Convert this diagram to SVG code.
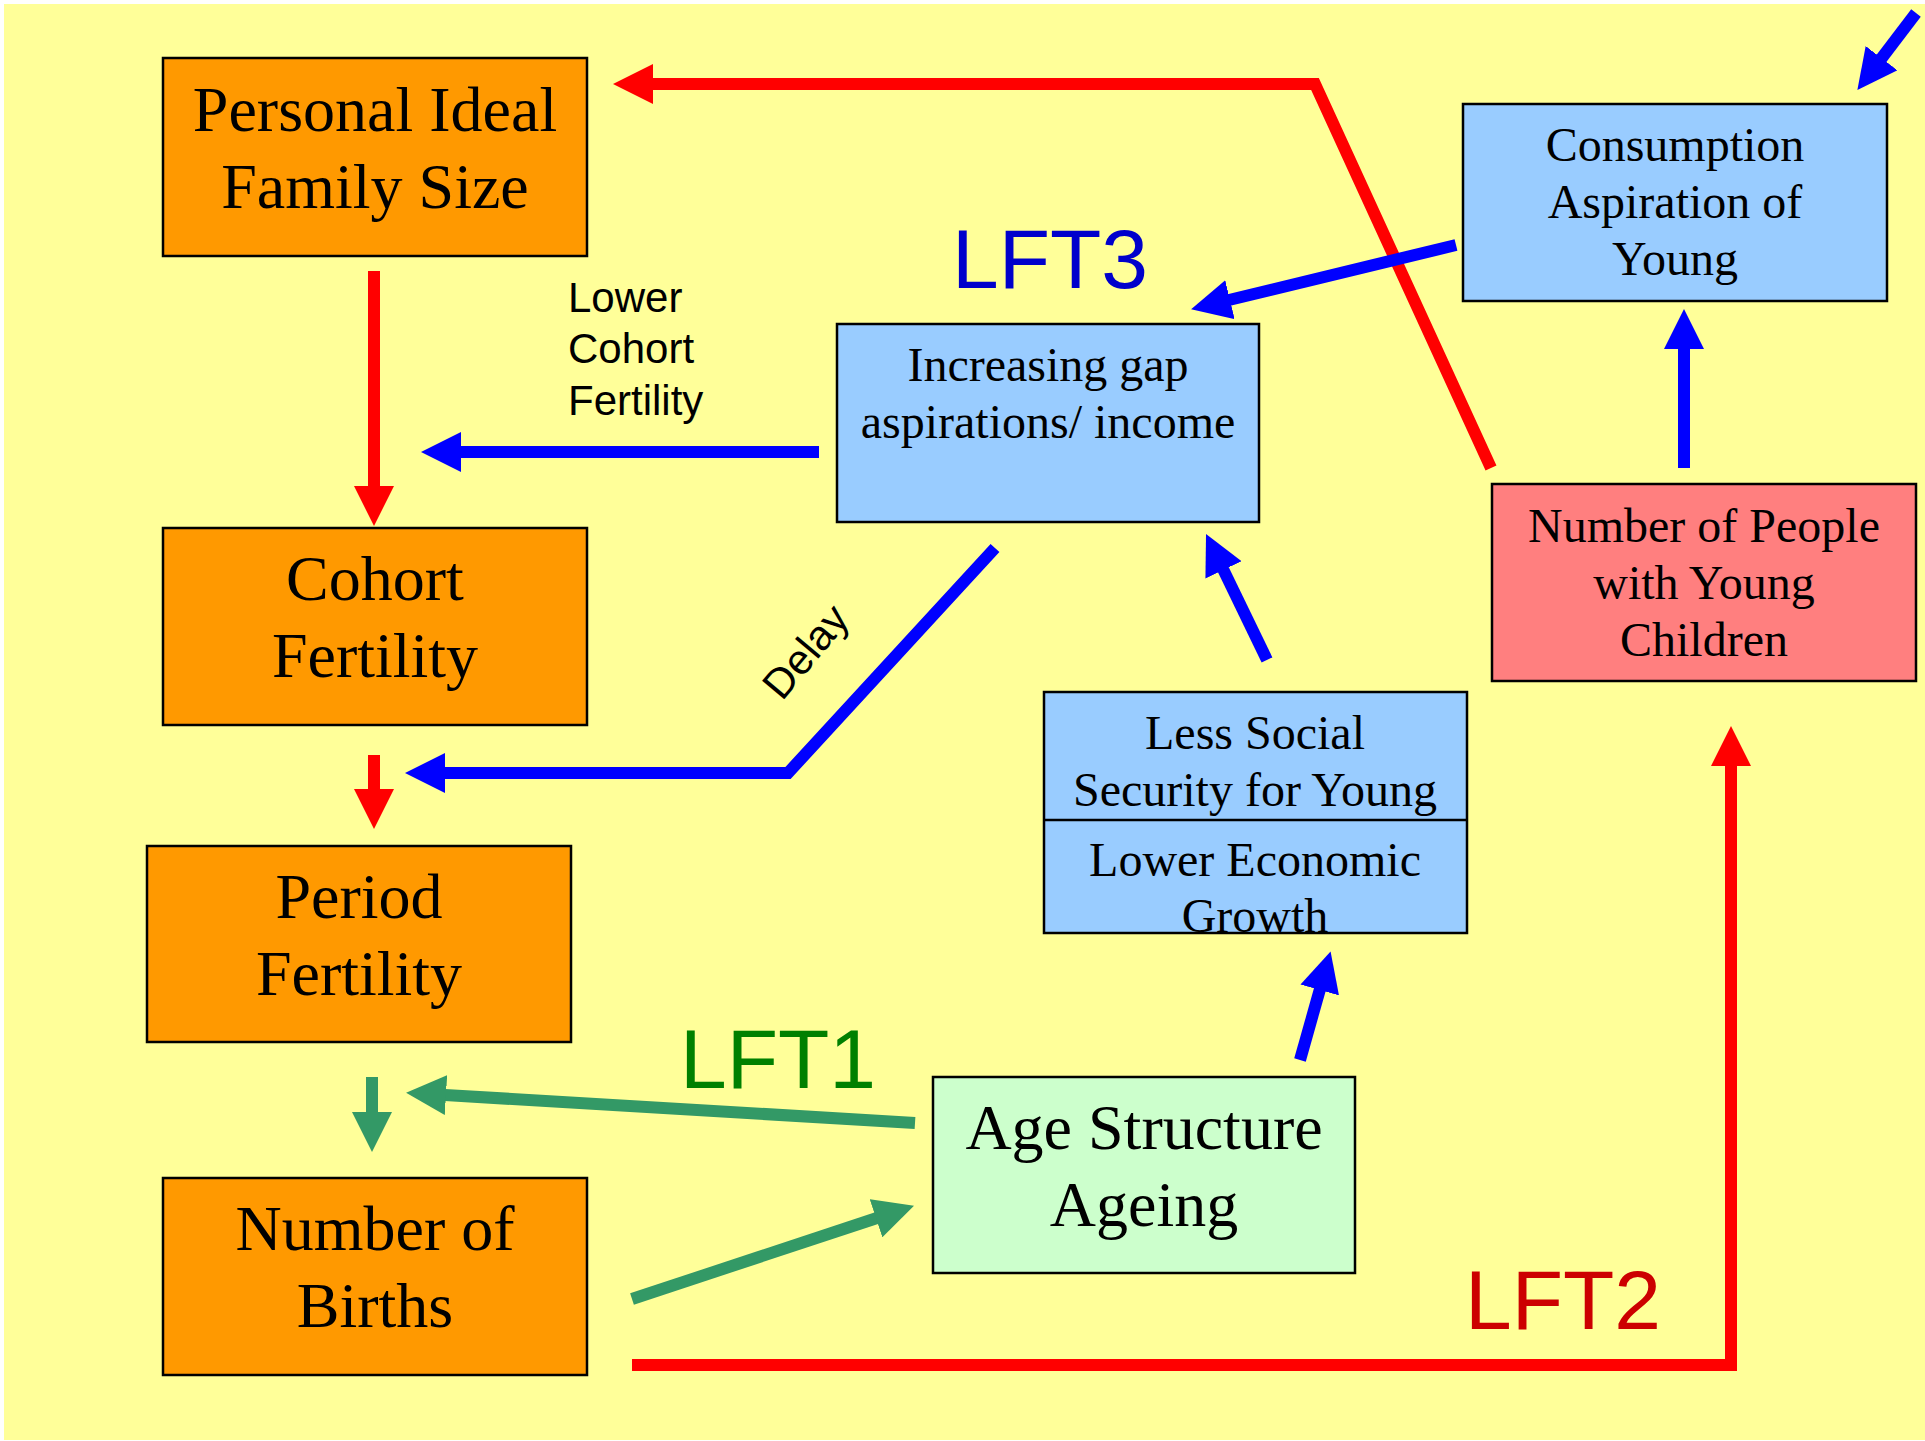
<svg xmlns="http://www.w3.org/2000/svg" width="1925" height="1441" viewBox="0 0 1925 1441">
<style>
.box{stroke:#000;stroke-width:2.5}
.orange{fill:#FF9900}
.lblue{fill:#99CCFF}
.salmon{fill:#FF7F7F}
.lgreen{fill:#CCFFCC}
.big{font-family:"Liberation Serif","Times New Roman",serif;font-size:64px;fill:#000;text-anchor:middle}
.med{font-family:"Liberation Serif","Times New Roman",serif;font-size:48px;fill:#000;text-anchor:middle}
.sans{font-family:"Liberation Sans",Arial,sans-serif;fill:#000}
.lft{font-family:"Liberation Sans",Arial,sans-serif;font-size:84px}
.r{fill:none;stroke:#FF0000;stroke-width:12;stroke-linejoin:miter}
.b{fill:none;stroke:#0000FF;stroke-width:12;stroke-linejoin:miter}
.g{fill:none;stroke:#339966;stroke-width:12}
</style>
<defs>
<marker id="hr" viewBox="0 0 40 40" markerUnits="userSpaceOnUse" markerWidth="40" markerHeight="40" refX="1" refY="20" orient="auto"><path d="M0,0 L40,20 L0,40 Z" fill="#FF0000"/></marker>
<marker id="hb" viewBox="0 0 40 40" markerUnits="userSpaceOnUse" markerWidth="40" markerHeight="40" refX="1" refY="20" orient="auto"><path d="M0,0 L40,20 L0,40 Z" fill="#0000FF"/></marker>
<marker id="hg" viewBox="0 0 40 40" markerUnits="userSpaceOnUse" markerWidth="40" markerHeight="40" refX="1" refY="20" orient="auto"><path d="M0,0 L40,20 L0,40 Z" fill="#339966"/></marker>
</defs>
<rect x="0" y="0" width="1925" height="1441" fill="#FFFFFF"/>
<rect x="4" y="4" width="1921" height="1436" fill="#FFFF99"/>

<g id="connectors">
<path class="r" d="M1491,468 L1315,84 L652,84" marker-end="url(#hr)"/>
<path class="r" d="M374,271 L374,487" marker-end="url(#hr)"/>
<path class="b" d="M819,452 L460,452" marker-end="url(#hb)"/>
<path class="r" d="M374,755 L374,790" marker-end="url(#hr)"/>
<path class="b" d="M995,548 L788,773 L444,773" marker-end="url(#hb)"/>
<path class="b" d="M1267,660 L1223,569" marker-end="url(#hb)"/>
<path class="b" d="M1456,245 L1229,300" marker-end="url(#hb)"/>
<path class="b" d="M1684,468 L1684,348" marker-end="url(#hb)"/>
<path class="b" d="M1916,13 L1881,59" marker-end="url(#hb)"/>
<path class="b" d="M1300,1060 L1320,989" marker-end="url(#hb)"/>
<path class="g" d="M372,1077 L372,1113" marker-end="url(#hg)"/>
<path class="g" d="M915,1123 L445,1095" marker-end="url(#hg)"/>
<path class="g" d="M632,1299 L877,1218" marker-end="url(#hg)"/>
<path class="r" d="M632,1365 L1731,1365 L1731,765" marker-end="url(#hr)"/>
</g>

<g id="labels">
<text class="sans" font-size="42" x="568" y="312">Lower</text>
<text class="sans" font-size="42" x="568" y="363">Cohort</text>
<text class="sans" font-size="42" x="568" y="415">Fertility</text>
<text class="sans" font-size="42" transform="translate(782,702) rotate(-50)">Delay</text>
<text class="lft" fill="#0000CC" x="952" y="288">LFT3</text>
<text class="lft" fill="#008000" x="680" y="1088">LFT1</text>
<text class="lft" fill="#CC0000" x="1465" y="1329">LFT2</text>
</g>

<g id="personal-ideal-family-size">
<rect class="box orange" x="163" y="58" width="424" height="198"/>
<text class="big" x="375" y="131">Personal Ideal</text>
<text class="big" x="375" y="208">Family Size</text>
</g>

<g id="cohort-fertility">
<rect class="box orange" x="163" y="528" width="424" height="197"/>
<text class="big" x="375" y="600">Cohort</text>
<text class="big" x="375" y="677">Fertility</text>
</g>

<g id="period-fertility">
<rect class="box orange" x="147" y="846" width="424" height="196"/>
<text class="big" x="359" y="918">Period</text>
<text class="big" x="359" y="995">Fertility</text>
</g>

<g id="number-of-births">
<rect class="box orange" x="163" y="1178" width="424" height="197"/>
<text class="big" x="375" y="1250">Number of</text>
<text class="big" x="375" y="1327">Births</text>
</g>

<g id="age-structure-ageing">
<rect class="box lgreen" x="933" y="1077" width="422" height="196"/>
<text class="big" x="1144" y="1149">Age Structure</text>
<text class="big" x="1144" y="1226">Ageing</text>
</g>

<g id="less-social-security">
<rect class="box lblue" x="1044" y="692" width="423" height="241"/>
<line x1="1044" y1="820" x2="1467" y2="820" stroke="#000" stroke-width="2.5"/>
<text class="med" x="1255" y="749">Less Social</text>
<text class="med" x="1255" y="806">Security for Young</text>
<text class="med" x="1255" y="876">Lower Economic</text>
<text class="med" x="1255" y="932">Growth</text>
</g>

<g id="increasing-gap">
<rect class="box lblue" x="837" y="324" width="422" height="198"/>
<text class="med" x="1048" y="381">Increasing gap</text>
<text class="med" x="1048" y="438">aspirations/ income</text>
</g>

<g id="consumption-aspiration">
<rect class="box lblue" x="1463" y="104" width="424" height="197"/>
<text class="med" x="1675" y="161">Consumption</text>
<text class="med" x="1675" y="218">Aspiration of</text>
<text class="med" x="1675" y="275">Young</text>
</g>

<g id="number-of-people">
<rect class="box salmon" x="1492" y="484" width="424" height="197"/>
<text class="med" x="1704" y="542">Number of People</text>
<text class="med" x="1704" y="599">with Young</text>
<text class="med" x="1704" y="656">Children</text>
</g>
</svg>
